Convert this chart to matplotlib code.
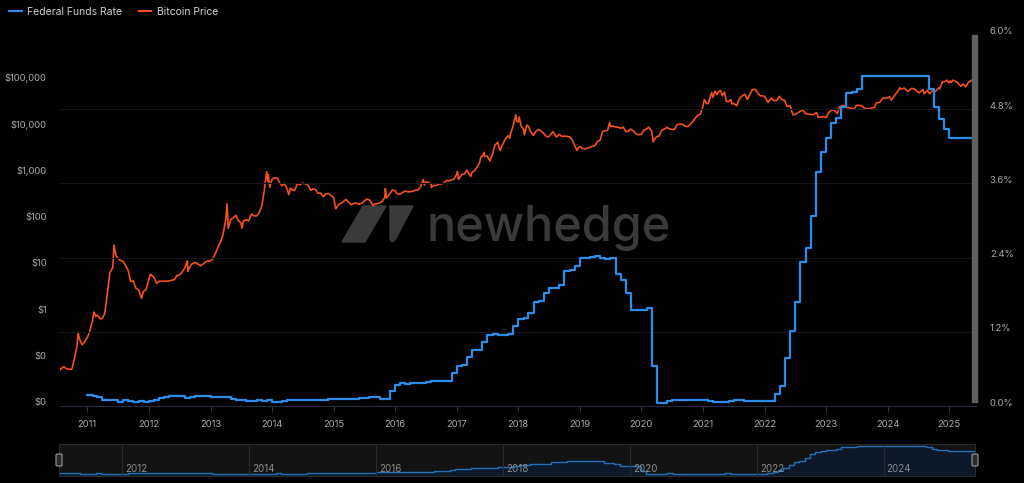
import numpy as np
import pandas as pd
import matplotlib
matplotlib.use("Agg")
import matplotlib.pyplot as plt
import matplotlib.dates as mdates
from matplotlib.patches import Polygon, Rectangle, FancyBboxPatch
from matplotlib.transforms import ScaledTranslation
from matplotlib.ticker import FixedLocator, FuncFormatter
from matplotlib.lines import Line2D

plt.rcParams['font.family'] = ['Inter', 'DejaVu Sans']

# ---- data ----
btc_dates = [
    "2010-07-23", "2010-08-01", "2010-08-15", "2010-09-01", "2010-09-15", "2010-10-01", "2010-10-15",
    "2010-11-01", "2010-11-07", "2010-11-15", "2010-12-01", "2010-12-15",
    "2011-01-01", "2011-01-15", "2011-02-01", "2011-02-10", "2011-02-20", "2011-03-01", "2011-03-20",
    "2011-04-01", "2011-04-15", "2011-05-01", "2011-05-15", "2011-06-01", "2011-06-08", "2011-06-20",
    "2011-07-01", "2011-07-15", "2011-08-01", "2011-08-15", "2011-09-01", "2011-09-15", "2011-10-01",
    "2011-10-15", "2011-11-01", "2011-11-18", "2011-12-01", "2011-12-15",
    "2012-01-01", "2012-01-10", "2012-02-01", "2012-02-17", "2012-03-01", "2012-04-01", "2012-05-01",
    "2012-06-01", "2012-06-15", "2012-07-01", "2012-07-15", "2012-08-01", "2012-08-16", "2012-08-20",
    "2012-09-01", "2012-09-15", "2012-10-01", "2012-10-15", "2012-11-01", "2012-11-15", "2012-12-01",
    "2012-12-15",
    "2013-01-01", "2013-01-15", "2013-02-01", "2013-02-15", "2013-03-01", "2013-03-15", "2013-04-01",
    "2013-04-09", "2013-04-16", "2013-05-01", "2013-05-15", "2013-06-01", "2013-06-15", "2013-07-01",
    "2013-07-06", "2013-07-15", "2013-08-01", "2013-08-15", "2013-09-01", "2013-09-15", "2013-10-01",
    "2013-10-15", "2013-11-01", "2013-11-15", "2013-11-30", "2013-12-07", "2013-12-10", "2013-12-18",
    "2014-01-01", "2014-01-15", "2014-02-01", "2014-02-15", "2014-03-01", "2014-03-15", "2014-04-01",
    "2014-04-10", "2014-04-20", "2014-05-01", "2014-05-15", "2014-06-01", "2014-06-15", "2014-07-01",
    "2014-07-15", "2014-08-01", "2014-08-18", "2014-09-01", "2014-09-15", "2014-10-01", "2014-10-15",
    "2014-11-01", "2014-11-15", "2014-12-01", "2014-12-15",
    "2015-01-01", "2015-01-14", "2015-02-01", "2015-02-15", "2015-03-01", "2015-03-15", "2015-04-01",
    "2015-04-15", "2015-05-01", "2015-05-15", "2015-06-01", "2015-06-15", "2015-07-01", "2015-07-15",
    "2015-08-01", "2015-08-24", "2015-09-01", "2015-09-15", "2015-10-01", "2015-10-15", "2015-11-01",
    "2015-11-04", "2015-11-11", "2015-12-01", "2015-12-15",
    "2016-01-01", "2016-01-15", "2016-02-01", "2016-02-15", "2016-03-01", "2016-03-15", "2016-04-01",
    "2016-04-15", "2016-05-01", "2016-05-15", "2016-06-01", "2016-06-16", "2016-06-23", "2016-07-01",
    "2016-07-15", "2016-08-01", "2016-08-03", "2016-08-15", "2016-09-01", "2016-09-15", "2016-10-01",
    "2016-10-15", "2016-11-01", "2016-11-15", "2016-12-01", "2016-12-15",
    "2017-01-01", "2017-01-05", "2017-01-11", "2017-01-15", "2017-02-01", "2017-02-15", "2017-03-01",
    "2017-03-24", "2017-04-01", "2017-04-15", "2017-05-01", "2017-05-15", "2017-05-25", "2017-06-01",
    "2017-06-12", "2017-06-15", "2017-07-01", "2017-07-16", "2017-08-01", "2017-08-15", "2017-09-01",
    "2017-09-14", "2017-10-01", "2017-10-15", "2017-11-01", "2017-11-12", "2017-11-15", "2017-12-01",
    "2017-12-17", "2017-12-22",
    "2018-01-01", "2018-01-06", "2018-01-17", "2018-02-01", "2018-02-06", "2018-02-20", "2018-03-01",
    "2018-03-15", "2018-04-01", "2018-04-15", "2018-05-01", "2018-05-15", "2018-06-01", "2018-06-15",
    "2018-07-01", "2018-07-25", "2018-08-01", "2018-08-15", "2018-09-01", "2018-09-15", "2018-10-01",
    "2018-10-15", "2018-11-01", "2018-11-15", "2018-12-01", "2018-12-15", "2018-12-25",
    "2019-01-01", "2019-01-15", "2019-02-01", "2019-02-15", "2019-03-01", "2019-03-15", "2019-04-01",
    "2019-04-15", "2019-05-01", "2019-05-15", "2019-06-01", "2019-06-15", "2019-06-26", "2019-07-01",
    "2019-07-15", "2019-08-01", "2019-08-15", "2019-09-01", "2019-09-15", "2019-10-01", "2019-10-15",
    "2019-10-26", "2019-11-01", "2019-11-15", "2019-12-01", "2019-12-15",
    "2020-01-01", "2020-01-15", "2020-02-01", "2020-02-13", "2020-03-01", "2020-03-12", "2020-03-15",
    "2020-04-01", "2020-04-15", "2020-05-01", "2020-05-15", "2020-06-01", "2020-06-15", "2020-07-01",
    "2020-07-15", "2020-08-01", "2020-08-15", "2020-09-01", "2020-09-15", "2020-10-01", "2020-10-15",
    "2020-11-01", "2020-11-15", "2020-12-01", "2020-12-15",
    "2021-01-01", "2021-01-08", "2021-01-22", "2021-02-01", "2021-02-21", "2021-02-28", "2021-03-13",
    "2021-03-25", "2021-04-01", "2021-04-14", "2021-04-25", "2021-05-08", "2021-05-19", "2021-06-01",
    "2021-06-15", "2021-06-22", "2021-07-01", "2021-07-20", "2021-08-01", "2021-08-15", "2021-09-06",
    "2021-09-21", "2021-10-01", "2021-10-20", "2021-11-08", "2021-11-15", "2021-12-04", "2021-12-15",
    "2022-01-01", "2022-01-22", "2022-02-10", "2022-02-24", "2022-03-15", "2022-03-29", "2022-04-15",
    "2022-05-01", "2022-05-12", "2022-06-01", "2022-06-18", "2022-07-01", "2022-07-15", "2022-08-14",
    "2022-09-01", "2022-09-15", "2022-10-01", "2022-10-15", "2022-11-05", "2022-11-15", "2022-12-01",
    "2022-12-15",
    "2023-01-01", "2023-01-15", "2023-02-01", "2023-02-15", "2023-03-10", "2023-03-20", "2023-04-14",
    "2023-05-01", "2023-05-15", "2023-06-15", "2023-06-30", "2023-07-15", "2023-08-01", "2023-08-18",
    "2023-09-11", "2023-09-30", "2023-10-15", "2023-10-24", "2023-11-15", "2023-12-05", "2023-12-15",
    "2024-01-01", "2024-01-11", "2024-01-23", "2024-02-15", "2024-03-05", "2024-03-14", "2024-03-20",
    "2024-04-08", "2024-04-30", "2024-05-21", "2024-06-07", "2024-06-24", "2024-07-05", "2024-07-29",
    "2024-08-05", "2024-08-24", "2024-09-06", "2024-09-27", "2024-10-10", "2024-10-29", "2024-11-05",
    "2024-11-22", "2024-12-05", "2024-12-17", "2024-12-30",
    "2025-01-06", "2025-01-13", "2025-01-21", "2025-02-03", "2025-02-15", "2025-02-28", "2025-03-10",
    "2025-03-24", "2025-04-08", "2025-04-22", "2025-05-08", "2025-05-21", "2025-06-05", "2025-06-08",
]
btc_price = [
    0.06, 0.065, 0.07, 0.063, 0.062, 0.062, 0.10,
    0.20, 0.39, 0.28, 0.21, 0.24,
    0.30, 0.40, 0.70, 1.06, 0.85, 0.91, 0.75,
    0.78, 1.0, 3.0, 7.5, 9.6, 29.6, 17.5,
    15.4, 13.9, 13.1, 11.0, 8.2, 4.9, 5.0,
    3.5, 3.2, 2.1, 3.0, 3.2,
    5.3, 7.0, 5.9, 4.4, 4.9, 4.9, 5.0,
    5.3, 6.5, 6.7, 7.6, 9.4, 13.5, 8.0,
    10.2, 11.7, 12.4, 11.8, 10.6, 11.3, 12.6,
    13.4,
    13.5, 14.8, 20.4, 27.0, 34.5, 47.0, 104,
    230, 68, 105, 114, 129, 100, 88,
    68, 98, 104, 98, 138, 126, 125,
    145, 206, 420, 1130, 700, 970, 520,
    770, 840, 820, 650, 560, 630, 470,
    360, 500, 450, 445, 630, 590, 640,
    620, 590, 450, 480, 470, 385, 395,
    325, 375, 380, 350,
    315, 178, 225, 235, 260, 285, 245,
    220, 232, 237, 223, 236, 258, 288,
    280, 210, 228, 230, 238, 255, 315,
    490, 305, 378, 455,
    434, 375, 372, 405, 433, 415, 417,
    430, 450, 456, 537, 765, 580, 680,
    665, 606, 515, 567, 572, 607, 613,
    640, 730, 715, 752, 780,
    998, 1140, 770, 820, 988, 1010, 1222,
    890, 1080, 1180, 1420, 1720, 2400, 2400,
    2950, 2430, 2430, 1930, 2720, 4160, 4890,
    3230, 4400, 5680, 6740, 5950, 7300, 10980,
    19140, 13800,
    13400, 17100, 11200, 9170, 7050, 11400, 10900,
    8250, 6840, 8350, 9240, 8500, 7540, 6500,
    6390, 8230, 7600, 6300, 7200, 6520, 6600,
    6500, 6370, 5600, 4210, 3240, 3800,
    3900, 3600, 3500, 3620, 3820, 3930, 4140,
    5030, 5350, 8200, 8550, 8900, 12900, 10600,
    10850, 10400, 10300, 9750, 10300, 8300, 8370,
    9200, 9260, 8480, 7400, 7070,
    7200, 8800, 9390, 10350, 8550, 4970, 5400,
    6430, 6640, 8860, 9380, 10200, 9420, 9230,
    9190, 11800, 11900, 11900, 10790, 10620, 11500,
    13740, 15950, 18800, 19440,
    29400, 40800, 33000, 33500, 57500, 45200, 61200,
    51700, 59000, 63500, 49000, 58800, 37000, 36700,
    40500, 32500, 33500, 29800, 39900, 47000, 52700,
    40700, 48100, 65900, 67500, 60300, 49300, 48900,
    47700, 35000, 43600, 38300, 39300, 47500, 40500,
    38500, 28900, 29800, 19000, 19300, 20800, 24300,
    20100, 19700, 19300, 19100, 21300, 16900, 17000,
    17400,
    16600, 20900, 23700, 24300, 20200, 28200, 30400,
    27500, 27200, 25100, 30500, 30300, 29700, 26100,
    25200, 27000, 27200, 33900, 35600, 44000, 43000,
    44200, 46600, 39500, 51800, 63800, 73100, 67900,
    71600, 60600, 70100, 69300, 60300, 56700, 66800,
    54000, 64200, 53900, 65800, 60600, 72700, 69400,
    98900, 98800, 106100, 92600,
    102100, 94500, 106100, 101300, 97500, 84400, 78500,
    87400, 76300, 93500, 103000, 109700, 101600, 105600,
]

ffr_start = "2011-01-01"
ffr_rate = [
    0.17, 0.16, 0.14, 0.10, 0.09, 0.09, 0.07, 0.10, 0.08, 0.07, 0.08, 0.07,
    0.08, 0.10, 0.13, 0.14, 0.16, 0.16, 0.16, 0.13, 0.14, 0.16, 0.16, 0.16,
    0.14, 0.15, 0.14, 0.15, 0.11, 0.09, 0.09, 0.08, 0.08, 0.09, 0.08, 0.09,
    0.07, 0.07, 0.08, 0.09, 0.09, 0.10, 0.09, 0.09, 0.09, 0.09, 0.09, 0.12,
    0.11, 0.11, 0.11, 0.12, 0.12, 0.13, 0.13, 0.14, 0.14, 0.12, 0.12, 0.24,
    0.34, 0.38, 0.36, 0.37, 0.37, 0.38, 0.39, 0.40, 0.40, 0.40, 0.41, 0.54,
    0.65, 0.66, 0.79, 0.90, 0.91, 1.04, 1.15, 1.16, 1.15, 1.15, 1.16, 1.30,
    1.41, 1.42, 1.51, 1.69, 1.70, 1.82, 1.91, 1.91, 1.95, 2.19, 2.20, 2.27,
    2.40, 2.40, 2.41, 2.42, 2.39, 2.38, 2.40, 2.13, 2.04, 1.83, 1.55, 1.55,
    1.55, 1.58, 0.65, 0.05, 0.05, 0.08, 0.09, 0.10, 0.09, 0.09, 0.09, 0.09,
    0.09, 0.08, 0.07, 0.07, 0.06, 0.08, 0.10, 0.09, 0.08, 0.08, 0.08, 0.08,
    0.08, 0.08, 0.20, 0.33, 0.77, 1.21, 1.68, 2.33, 2.56, 3.08, 3.78, 4.10,
    4.33, 4.57, 4.65, 4.83, 5.06, 5.08, 5.12, 5.33, 5.33, 5.33, 5.33, 5.33,
    5.33, 5.33, 5.33, 5.33, 5.33, 5.33, 5.33, 5.33, 5.13, 4.83, 4.64, 4.48,
    4.33, 4.33, 4.33, 4.33, 4.33, 4.33,
]
ffr_end = "2025-06-08"

year_ticks = list(range(2011, 2026))
nav_years = [2012, 2014, 2016, 2018, 2020, 2022, 2024]
price_ticks = [0.01, 0.1, 1, 10, 100, 1000, 10000, 100000]
rate_ticks = [0.0, 1.2, 2.4, 3.6, 4.8, 6.0]
grid_levels = [1.2, 2.4, 3.6, 4.8]

# ---- prep ----
btc_x = pd.to_datetime(btc_dates)
ffr_x = pd.date_range(ffr_start, periods=len(ffr_rate), freq="MS")
ffr_x = ffr_x.append(pd.DatetimeIndex([ffr_end]))
ffr_y = ffr_rate + [ffr_rate[-1]]

BG = "#000000"
ORANGE = "#f4511e"
BLUE = "#2a8ee8"
TXT = "#a9a9a9"

W, H = 1024, 483
fig = plt.figure(figsize=(W / 100, H / 100), dpi=100, facecolor=BG)

def px(x0, y0, x1, y1):
    return [x0 / W, 1 - y1 / H, (x1 - x0) / W, (y1 - y0) / H]

ax = fig.add_axes(px(60, 35, 976, 406))
ax.set_facecolor(BG)
ax2 = ax.twinx()

ax.plot(btc_x, btc_price, color=ORANGE, lw=1.2, zorder=3)
ax.set_yscale("log")
ax.set_ylim(0.01, 1e6)
ax.set_xlim(pd.Timestamp("2010-07-23"), pd.Timestamp("2025-06-08"))

for g in grid_levels:
    ax2.axhline(g, color="#151515", lw=0.8, zorder=0)
ax2.step(ffr_x, ffr_y, where="post", color=BLUE, lw=1.6, zorder=3)
ax2.set_ylim(0, 6)

# ticks
ax.yaxis.set_major_locator(FixedLocator(price_ticks))
ax.yaxis.set_minor_locator(FixedLocator([]))
ax.yaxis.set_major_formatter(FuncFormatter(lambda v, p: f"${v:,.0f}"))
ax.tick_params(axis="y", length=0, pad=9.5, labelsize=6.8, labelcolor=TXT)

ax2.yaxis.set_major_locator(FixedLocator(rate_ticks))
ax2.yaxis.set_major_formatter(FuncFormatter(lambda v, p: f"{v:.1f}%"))
ax2.tick_params(axis="y", length=0, pad=10, labelsize=6.8, labelcolor=TXT)

ax.set_xticks([pd.Timestamp(f"{y}-01-01") for y in year_ticks])
ax.xaxis.set_major_formatter(mdates.DateFormatter("%Y"))
ax.tick_params(axis="x", length=4, width=0.8, color="#2c3040", pad=6,
               labelsize=6.8, labelcolor=TXT)

up = ScaledTranslation(0, 4 / 100, fig.dpi_scale_trans)
for lab in ax.get_yticklabels() + ax2.get_yticklabels():
    lab.set_transform(lab.get_transform() + up)

for a in (ax, ax2):
    for s in ("top", "left", "right"):
        a.spines[s].set_visible(False)
    a.spines["bottom"].set_color("#262a38")
    a.spines["bottom"].set_linewidth(0.8)

# gray scrollbar on the right edge
ax2.add_patch(Rectangle(((972 - 60) / 916, 0.012), 5 / 916, 0.988,
                        transform=ax2.transAxes, color="#5f5f5f",
                        clip_on=False, zorder=4))

# watermark
wm = "#3a3a3a"
ax.text(427 / W, 1 - 241 / H, "newhedge", transform=fig.transFigure,
        fontsize=35, color=wm, fontweight="medium", ha="left", va="baseline", zorder=1)
def to_fig(pts):
    return [(x / W, 1 - y / H) for x, y in pts]
ax.add_patch(Polygon(to_fig([(342, 242), (363, 206), (386, 206), (365, 242)]),
                     closed=True, transform=fig.transFigure, color=wm, zorder=1))
ax.add_patch(Polygon(to_fig([(390, 206), (413, 206), (395, 240), (392, 242), (390, 239)]),
                     closed=True, transform=fig.transFigure, color=wm, zorder=1))

# legend
handles = [Line2D([], [], color=BLUE, lw=1.5), Line2D([], [], color=ORANGE, lw=1.5)]
fig.legend(handles, ["Federal Funds Rate", "Bitcoin Price"], loc="upper left",
           bbox_to_anchor=(0.0, 1.005), ncol=2, frameon=False, fontsize=7.5,
           labelcolor="#cfcfcf", handlelength=1.2, handletextpad=0.5, columnspacing=1.6)

# navigator
nav = fig.add_axes(px(59, 444, 975, 476))
nav.set_facecolor("#131313")
nav.step(ffr_x, ffr_y, where="post", color="#2370b8", lw=1.0)
nav.fill_between(ffr_x, ffr_y, -1, step="post", color="#0d1a2b", alpha=0.9)
nav.set_xlim(pd.Timestamp(ffr_start), pd.Timestamp(ffr_end))
nav.set_ylim(-0.38, 5.71)
nav.set_xticks([])
nav.set_yticks([])
for s in nav.spines.values():
    s.set_color("#2a2a2a")
    s.set_linewidth(0.8)
for y in nav_years:
    d = pd.Timestamp(f"{y}-01-01")
    nav.axvline(d, color="#2c2c2c", lw=0.8)
    nav.annotate(str(y), (d, 0), xycoords=("data", "axes fraction"),
                 xytext=(2, 3), textcoords="offset points", fontsize=7, color="#8c8c8c")

for hx in (59, 975):
    fig.patches.append(FancyBboxPatch(((hx - 3) / W, 1 - 466 / H), 6 / W, 12 / H,
                                      boxstyle="round,pad=0,rounding_size=0.002",
                                      transform=fig.transFigure, facecolor="#2a2a2a",
                                      edgecolor="#9a9a9a", lw=0.8, zorder=5))

fig.savefig("out.png", dpi=100, facecolor=BG)
